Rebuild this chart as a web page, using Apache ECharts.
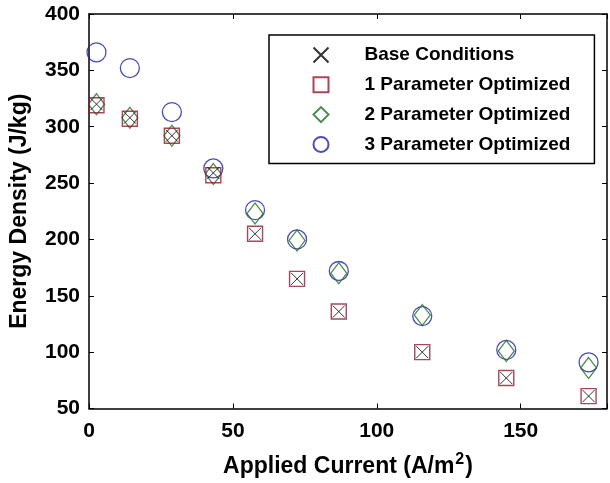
<!DOCTYPE html>
<html>
<head>
<meta charset="utf-8">
<script src="https://cdn.jsdelivr.net/npm/echarts@6/dist/echarts.min.js"></script>
<style>
  html, body { margin: 0; padding: 0; background: #fff; }
  #chart { width: 610px; height: 483px; }
</style>
</head>
<body>
<div id="chart"></div>
<script>
// applied current (A/m^2)
var current = [2.6, 14.2, 28.8, 43.2, 57.7, 72.3, 86.8, 115.8, 145, 173.6];
// energy density (J/kg)
var baseCond = [320, 308, 292, 259, 205, 165, 136, 100, 77, 61];
var opt1 = [319, 307, 292, 257, 205, 165, 136, 100, 77, 61];
var opt2 = [320, 308, 292, 258, 223, 199, 170, 133, 101, 86];
var opt3 = [366, 352, 313, 263, 226, 200, 172, 132, 102, 91];
var seriesNames = ['Base Conditions', '1 Parameter Optimized', '2 Parameter Optimized', '3 Parameter Optimized'];
var xTicks = [0, 50, 100, 150];
var yTicks = [50, 100, 150, 200, 250, 300, 350, 400];

function pairs(ys){ return current.map(function(x, i){ return [x, ys[i]] }) }

var font = 'Liberation Sans, Arial, sans-serif';
var axisLine = {show: true, onZero: false, lineStyle: {color: '#000', width: 1.5}};
var ticks = {show: true, inside: true, length: 5, lineStyle: {color: '#000', width: 1}};

var chart = echarts.init(document.getElementById('chart'));
chart.setOption({
  animation: false,
  grid: {left: 88, top: 14, width: 523, height: 395, containLabel: false},
  legend: {
    orient: 'vertical',
    left: 269, top: 35,
    padding: [10, 24, 9, 42],
    itemWidth: 15, itemHeight: 15, itemGap: 9.8,
    borderColor: '#000', borderWidth: 1.5, backgroundColor: '#fff',
    textStyle: {fontFamily: font, fontWeight: 'bold', fontSize: 19, lineHeight: 19, color: '#000', padding: [0, 0, 0, 31]},
    data: seriesNames
  },
  xAxis: [{
    type: 'value', min: 0, max: 180, interval: 50,
    axisLine: axisLine, axisTick: ticks, splitLine: {show: false},
    axisLabel: {margin: 12, fontFamily: font, fontWeight: 'bold', fontSize: 21, color: '#000',
      formatter: function(v){ return xTicks.indexOf(v) >= 0 ? v : '' }},
    name: '{t|Applied Current (A/m}{s|2}{t|)}', nameLocation: 'middle', nameGap: 43,
    nameTextStyle: {rich: {
      t: {fontFamily: font, fontWeight: 'bold', fontSize: 23, color: '#000'},
      s: {fontFamily: font, fontWeight: 'bold', fontSize: 16, color: '#000', verticalAlign: 'top', padding: [0, 1, 14, 1]}
    }}
  }, {
    type: 'value', position: 'top', min: 0, max: 180, interval: 50,
    axisLine: axisLine, axisTick: ticks, axisLabel: {show: false}, splitLine: {show: false}
  }],
  yAxis: [{
    type: 'value', min: 50, max: 400, interval: 50,
    axisLine: axisLine, axisTick: ticks, splitLine: {show: false},
    axisLabel: {margin: 9, fontFamily: font, fontWeight: 'bold', fontSize: 21, color: '#000',
      formatter: function(v){ return yTicks.indexOf(v) >= 0 ? v : '' }},
    name: 'Energy Density (J/kg)', nameLocation: 'middle', nameGap: 58,
    nameTextStyle: {fontFamily: font, fontWeight: 'bold', fontSize: 23, color: '#000'}
  }, {
    type: 'value', position: 'right', min: 50, max: 400, interval: 50,
    axisLine: axisLine, axisTick: ticks, axisLabel: {show: false}, splitLine: {show: false}
  }],
  series: [{
    name: seriesNames[0], type: 'scatter', data: pairs(baseCond), z: 5,
    symbol: 'path://M0,0L10,10M10,0L0,10', symbolSize: 12,
    itemStyle: {color: 'none', borderColor: '#000', borderWidth: 1}
  }, {
    name: seriesNames[1], type: 'scatter', data: pairs(opt1), z: 4,
    symbol: 'rect', symbolSize: 15,
    itemStyle: {color: 'none', borderColor: '#8c1c32', borderWidth: 1.4}
  }, {
    name: seriesNames[2], type: 'scatter', data: pairs(opt2), z: 3,
    symbol: 'diamond', symbolSize: [16, 21],
    itemStyle: {color: 'none', borderColor: '#1b6e1b', borderWidth: 1.3}
  }, {
    name: seriesNames[3], type: 'scatter', data: pairs(opt3), z: 2,
    symbol: 'circle', symbolSize: 19,
    itemStyle: {color: 'none', borderColor: '#1f1fa8', borderWidth: 1.3}
  }]
});
</script>
</body>
</html>
